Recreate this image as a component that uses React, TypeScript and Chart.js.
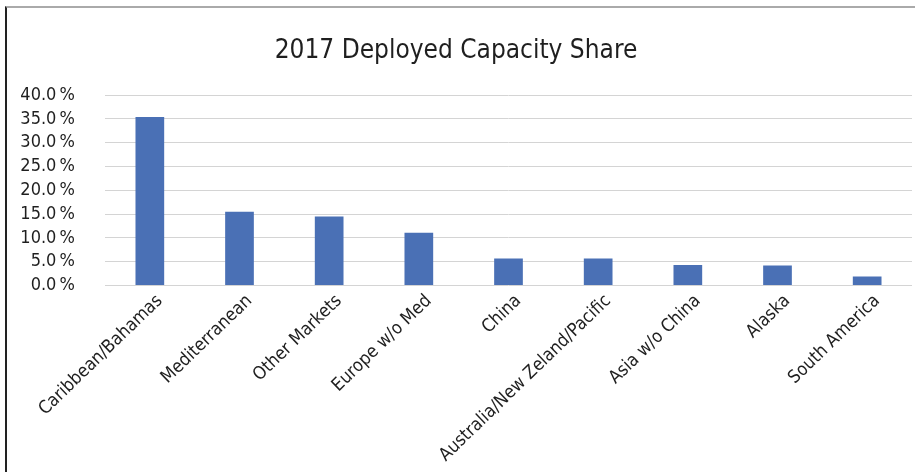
import { useEffect, useRef } from "react";
import { Chart, registerables } from "chart.js";

Chart.register(...registerables);

const chartTitle = "2017 Deployed Capacity Share";
const categories = [
  "Caribbean/Bahamas",
  "Mediterranean",
  "Other Markets",
  "Europe w/o Med",
  "China",
  "Australia/New Zeland/Pacific",
  "Asia w/o China",
  "Alaska",
  "South America",
];
const shareValues = [35.4, 15.5, 14.5, 11.1, 5.7, 5.7, 4.3, 4.2, 1.9];
const yMin = 0;
const yMax = 40;
const yStep = 5;

const FONT = "'Liberation Sans Narrow', 'DejaVu Sans Condensed', 'Roboto Condensed', sans-serif";

export default function App() {
  const canvasRef = useRef<HTMLCanvasElement | null>(null);

  useEffect(() => {
    if (!canvasRef.current) return;
    const chart = new Chart(canvasRef.current, {
      type: "bar",
      data: {
        labels: categories,
        datasets: [
          {
            label: "Share",
            data: shareValues,
            backgroundColor: "#4a70b5",
            borderWidth: 0,
            barPercentage: 0.32,
            categoryPercentage: 1,
          },
        ],
      },
      options: {
        animation: false,
        responsive: true,
        maintainAspectRatio: false,
        layout: { padding: { left: 0, right: 3, top: 0, bottom: 0 } },
        plugins: {
          legend: { display: false },
          tooltip: { enabled: false },
          title: {
            display: true,
            text: chartTitle,
            color: "#1f1f1f",
            font: { family: FONT, size: 26, weight: "normal", lineHeight: 1.2 },
            padding: { top: 36, bottom: 28 },
          },
        },
        scales: {
          x: {
            grid: { display: false, drawTicks: false },
            border: { display: false },
            ticks: {
              color: "#1f1f1f",
              font: { family: FONT, size: 18 },
              maxRotation: 44,
              minRotation: 44,
              autoSkip: false,
              padding: 5,
              labelOffset: 10,
            },
            afterFit: (scale: any) => {
              scale.height = 186.5;
            },
          },
          y: {
            min: yMin,
            max: yMax,
            grid: { color: "#d4d4d4", lineWidth: 1, drawTicks: false },
            border: { display: false },
            ticks: {
              stepSize: yStep,
              autoSkip: false,
              color: "#1f1f1f",
              font: { family: FONT, size: 18 },
              padding: 30,
              callback: (v: any) => Number(v).toFixed(1) + "\u2009%",
            },
            afterFit: (scale: any) => {
              scale.width = 105;
            },
          },
        },
      },
    });
    return () => chart.destroy();
  }, []);

  return (
    <div style={{ position: "absolute", left: 0, top: 0, width: 915, height: 472, background: "#fff" }}>
      <div style={{ position: "absolute", left: 0, top: 0, width: 915, height: 472 }}>
        <canvas ref={canvasRef} />
      </div>
      <div
        style={{
          position: "absolute",
          left: 5,
          top: 6,
          width: 910,
          height: 466,
          boxSizing: "border-box",
          borderLeft: "2px solid #222",
          borderTop: "2px solid #aaa",
          pointerEvents: "none",
        }}
      />
    </div>
  );
}
